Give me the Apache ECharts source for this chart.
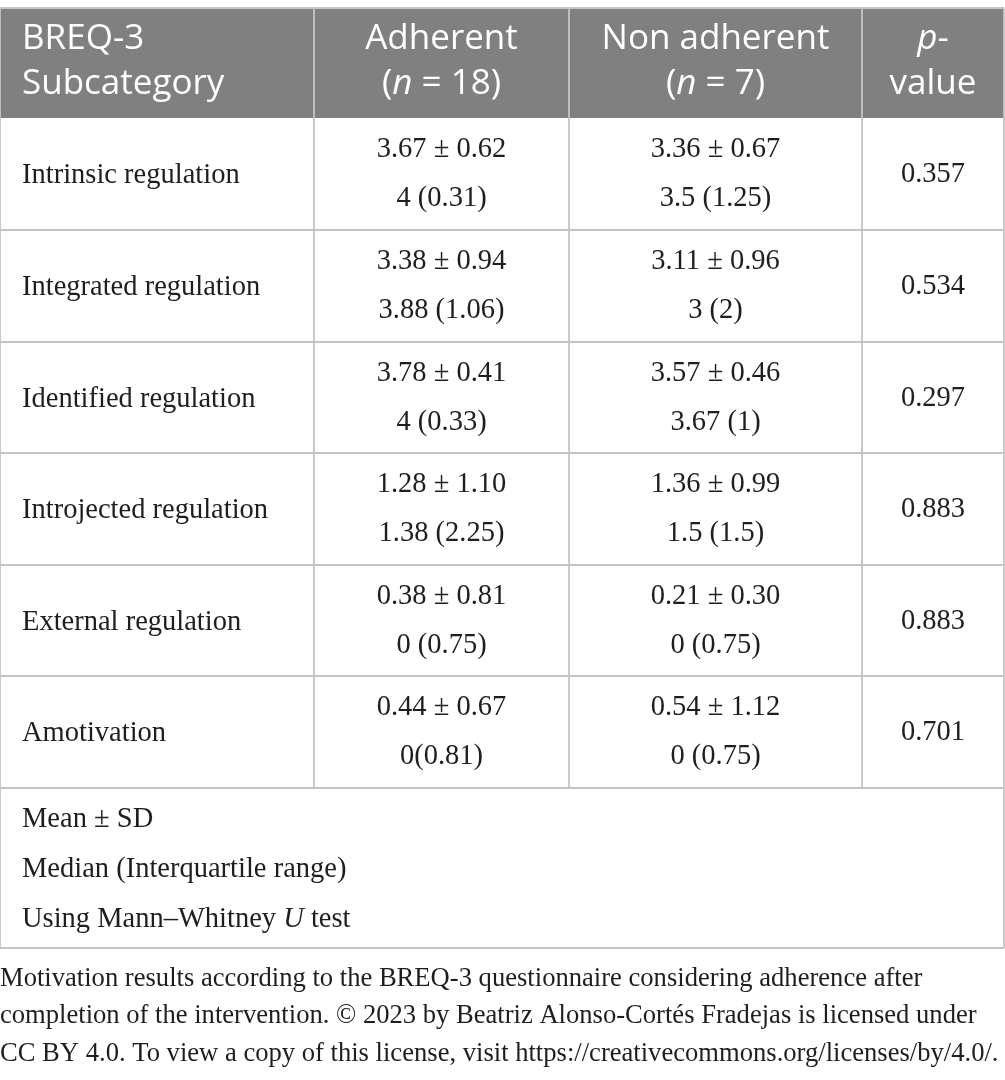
<!DOCTYPE html>
<html>
<head>
<meta charset="utf-8">
<script src="https://cdn.jsdelivr.net/npm/echarts@6/dist/echarts.min.js"></script>
<style>
  html, body { margin: 0; padding: 0; background: #fff; }
  #main { width: 1005px; height: 1080px; }
</style>
</head>
<body>
<div id="main"></div>
<script>
// table content
const headerLines = [
  ['BREQ-3', 'Subcategory'],
  ['Adherent', '({i|n} = 18)'],
  ['Non adherent', '({i|n} = 7)'],
  ['{i|p}-', 'value']
];
const subcategories = ['Intrinsic regulation', 'Integrated regulation', 'Identified regulation',
  'Introjected regulation', 'External regulation', 'Amotivation'];
const adherentMeanSd = ['3.67 ± 0.62', '3.38 ± 0.94', '3.78 ± 0.41', '1.28 ± 1.10', '0.38 ± 0.81', '0.44 ± 0.67'];
const adherentMedianIqr = ['4 (0.31)', '3.88 (1.06)', '4 (0.33)', '1.38 (2.25)', '0 (0.75)', '0(0.81)'];
const nonAdherentMeanSd = ['3.36 ± 0.67', '3.11 ± 0.96', '3.57 ± 0.46', '1.36 ± 0.99', '0.21 ± 0.30', '0.54 ± 1.12'];
const nonAdherentMedianIqr = ['3.5 (1.25)', '3 (2)', '3.67 (1)', '1.5 (1.5)', '0 (0.75)', '0 (0.75)'];
const pValues = [0.357, 0.534, 0.297, 0.883, 0.883, 0.701];
const footnotes = ['Mean ± SD', 'Median (Interquartile range)', 'Using Mann–Whitney {i|U} test'];
const caption = 'Motivation results according to the BREQ-3 questionnaire considering adherence after\n' +
  'completion of the intervention. © 2023 by Beatriz Alonso-Cortés Fradejas is licensed under\n' +
  'CC BY 4.0. To view a copy of this license, visit https://creativecommons.org/licenses/by/4.0/.';

// layout (pixel units of the hidden value axes)
const colEdges = [0, 314, 569, 862, 1004];
const headerTop = 8;
const rowEdges = [118, 230, 342, 453, 565, 676, 788];
const footBottom = 948;

const BORDER = '#c4c4c4';
const HEAD_BG = '#808080';
const INK = '#1e1e1e';
const SANS = '"Open Sans", sans-serif';
const SERIF = '"Liberation Serif", serif';
const HEAD_SIZE = 35;
const BODY_SIZE = 28.5;
const CAPTION_SIZE = 26.6;

const chart = echarts.init(document.getElementById('main'));

function pt(api, x, y) {
  return api.coord([x, y]);
}

function txt(api, x, y, text, opts) {
  const p = pt(api, x, y);
  const size = opts.size || BODY_SIZE;
  const family = opts.family || SERIF;
  const fill = opts.fill || INK;
  return {
    type: 'text',
    x: p[0],
    y: p[1],
    style: {
      text: text,
      fill: fill,
      fontSize: size,
      fontFamily: family,
      align: opts.align || 'center',
      verticalAlign: 'middle',
      rich: {
        i: { fontStyle: 'italic', fontSize: size, fontFamily: family, fill: fill }
      }
    }
  };
}

function line(api, x1, y1, x2, y2) {
  const a = pt(api, x1, y1), b = pt(api, x2, y2);
  return {
    type: 'line',
    shape: { x1: a[0], y1: a[1], x2: b[0], y2: b[1] },
    style: { stroke: BORDER, lineWidth: 1.8 }
  };
}

function colMid(c) {
  return (colEdges[c] + colEdges[c + 1]) / 2;
}

// header row
function renderHeader(params, api) {
  const a = pt(api, colEdges[0], headerTop), b = pt(api, colEdges[4], rowEdges[0]);
  const kids = [{
    type: 'rect',
    shape: { x: a[0], y: a[1], width: b[0] - a[0], height: b[1] - a[1] },
    style: { fill: HEAD_BG }
  }];
  headerLines.forEach((lines, c) => {
    const x = c === 0 ? colEdges[0] + 22 : colMid(c);
    lines.forEach((s, k) => {
      kids.push(txt(api, x, headerTop + 31 + k * 45, s, {
        size: HEAD_SIZE, family: SANS, fill: '#ffffff', align: c === 0 ? 'left' : 'center'
      }));
    });
  });
  kids.push(line(api, colEdges[0], headerTop, colEdges[4], headerTop));
  colEdges.forEach(x => kids.push(line(api, x, headerTop, x, rowEdges[0])));
  return { type: 'group', children: kids };
}

// one body row per data item
function renderRow(params, api) {
  const i = api.value(0);
  const top = rowEdges[i], bottom = rowEdges[i + 1];
  const mid = (top + bottom) / 2;
  const kids = [];
  kids.push(txt(api, colEdges[0] + 22, mid + 2, subcategories[i], { align: 'left' }));
  kids.push(txt(api, colMid(1), mid - 24, adherentMeanSd[i], {}));
  kids.push(txt(api, colMid(1), mid + 25, adherentMedianIqr[i], {}));
  kids.push(txt(api, colMid(2), mid - 24, nonAdherentMeanSd[i], {}));
  kids.push(txt(api, colMid(2), mid + 25, nonAdherentMedianIqr[i], {}));
  kids.push(txt(api, colMid(3), mid + 1, pValues[i].toFixed(3), {}));
  kids.push(line(api, colEdges[0], bottom, colEdges[4], bottom));
  colEdges.forEach(x => kids.push(line(api, x, top, x, bottom)));
  return { type: 'group', children: kids };
}

// footnote box under the table
function renderFoot(params, api) {
  const top = rowEdges[rowEdges.length - 1];
  const kids = [];
  footnotes.forEach((s, k) => {
    kids.push(txt(api, colEdges[0] + 22, top + 32 + k * 50, s, { align: 'left' }));
  });
  kids.push(line(api, colEdges[0], top, colEdges[0], footBottom));
  kids.push(line(api, colEdges[4], top, colEdges[4], footBottom));
  kids.push(line(api, colEdges[0], footBottom, colEdges[4], footBottom));
  return { type: 'group', children: kids };
}

chart.setOption({
  animation: false,
  title: {
    text: caption,
    left: 0,
    top: 960,
    padding: 0,
    textStyle: {
      fontFamily: SERIF,
      fontSize: CAPTION_SIZE,
      fontWeight: 'normal',
      color: INK,
      lineHeight: 37.5
    }
  },
  grid: { left: 0, right: 0, top: 0, bottom: 0 },
  xAxis: { type: 'value', min: 0, max: 1005, show: false },
  yAxis: { type: 'value', min: 0, max: 1080, inverse: true, show: false },
  series: [
    { type: 'custom', renderItem: renderHeader, data: [[0]], silent: true },
    { type: 'custom', renderItem: renderRow, data: subcategories.map((s, i) => [i]), silent: true },
    { type: 'custom', renderItem: renderFoot, data: [[0]], silent: true }
  ]
});
</script>
</body>
</html>
